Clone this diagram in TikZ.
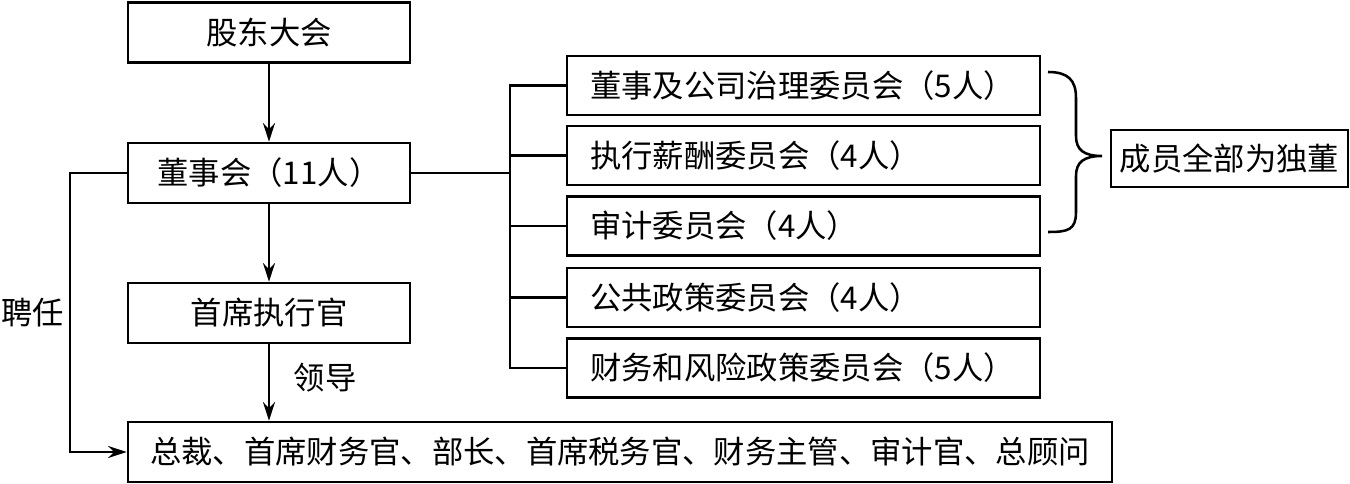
\documentclass[tikz,border=0pt]{standalone}
\usepackage{fontspec}
\newfontfamily\cjk{Noto Sans CJK SC}
\usetikzlibrary{arrows.meta}
\begin{document}
\begin{tikzpicture}[x=0.75pt,y=-0.75pt,
  line width=1.9pt,
  box/.style={draw, line width=1.9pt, inner sep=0pt, font=\cjk\fontsize{23.5}{28}\selectfont},
  cbox/.style={box, minimum width=211.5pt, minimum height=45pt},
  rbox/.style={box, minimum width=354.75pt, minimum height=44.25pt, text width=320pt, align=left},
  lbl/.style={font=\cjk\fontsize{23.5}{28}\selectfont, inner sep=0pt},
  arr/.style={-{Stealth[length=14pt,width=9pt]}}]
\useasboundingbox (0,0) rectangle (1350,484);
\node[cbox] (gd) at (269,32.5) {股东大会};
\node[cbox] (dsh) at (269,173) {董事会（11人）};
\node[cbox] (ceo) at (269,313) {首席执行官};
\node[box, minimum width=738pt, minimum height=45pt] (bot) at (620,452) {总裁、首席财务官、部长、首席税务官、财务主管、审计官、总顾问};
\node[rbox] (r1) at (803.5,85.5) {董事及公司治理委员会（5人）};
\node[rbox] (r2) at (803.5,155.5) {执行薪酬委员会（4人）};
\node[rbox] (r3) at (803.5,226) {审计委员会（4人）};
\node[rbox] (r4) at (803.5,297.5) {公共政策委员会（4人）};
\node[rbox] (r5) at (803.5,368) {财务和风险政策委员会（5人）};
\node[box, minimum width=177.75pt, minimum height=42.75pt] (ind) at (1229.5,158.5) {成员全部为独董};
\node[lbl] (pr) at (33,313) {聘任};
\node[lbl] (ld) at (325,378) {领导};
% vertical arrows
\draw[arr] (gd) -- (dsh);
\draw[arr] (dsh) -- (ceo);
\draw[arr] (ceo.south) -- (ceo.south |- bot.north);
% committee tree
\coordinate (bus) at (510,173);
\draw (dsh.east) -- (bus);
\draw (r1.west) -| (510,85.5) -- (510,368) -- (r5.west);
\draw (r2.west) -- (r2.west -| bus);
\draw (r3.west) -- (r3.west -| bus);
\draw (r4.west) -- (r4.west -| bus);
% hiring loop
\coordinate (hl) at (70,173);
\draw[arr] (dsh.west) -- (hl) |- (bot.west);
% brace
\draw (1048,72) .. controls (1068,72) and (1076,80) .. (1076,98) -- (1076,136)
  .. controls (1076,150) and (1084,156) .. (1102,156)
  .. controls (1084,156) and (1076,162) .. (1076,176) -- (1076,212)
  .. controls (1076,230) and (1068,232) .. (1048,232);
\end{tikzpicture}
\end{document}
